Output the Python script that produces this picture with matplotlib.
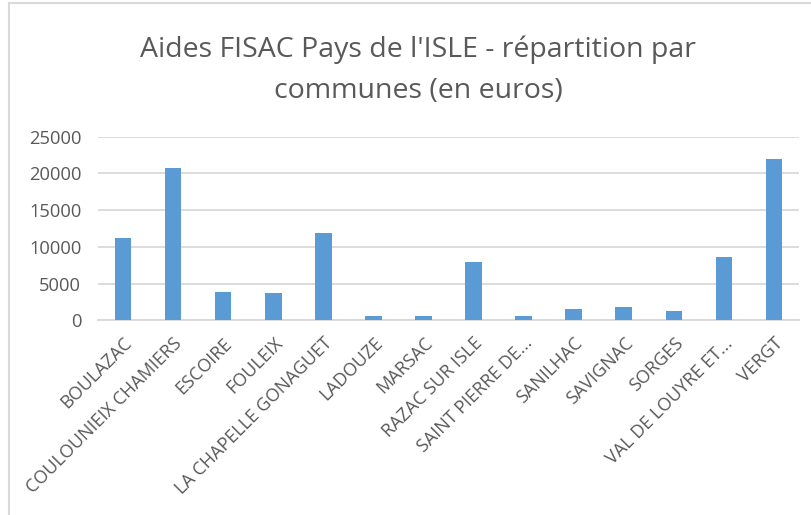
import matplotlib.pyplot as plt
from matplotlib.patches import Rectangle

communes = [
    "BOULAZAC", "COULOUNIEIX CHAMIERS", "ESCOIRE", "FOULEIX",
    "LA CHAPELLE GONAGUET", "LADOUZE", "MARSAC", "RAZAC SUR ISLE",
    "SAINT PIERRE DE...", "SANILHAC", "SAVIGNAC", "SORGES",
    "VAL DE LOUYRE ET...", "VERGT",
]
montants = [11200, 20800, 3800, 3650, 11950, 550, 550, 7950,
            550, 1500, 1770, 1320, 8630, 22000]
y_ticks = [0, 5000, 10000, 15000, 20000, 25000]

txt = "#595959"
grid = "#d9d9d9"
bar_color = "#5b9bd5"

plt.rcParams['font.family'] = ['Open Sans', 'DejaVu Sans']

fig = plt.figure(figsize=(8.11, 5.15), dpi=100)
ax = fig.add_axes([98 / 811, 1 - 320.3 / 515, 701 / 811, 183.6 / 515])

x = range(len(communes))
ax.bar(x, montants, width=0.33, color=bar_color, zorder=3)

ax.set_xlim(-0.5, len(communes) - 0.5)
ax.set_ylim(0, 25000)
ax.set_yticks(y_ticks)
ax.set_yticklabels([str(v) for v in y_ticks], fontsize=13.2, color=txt)
ax.set_xticks(list(x))
ax.set_xticklabels(communes, rotation=45, ha='right', rotation_mode='anchor',
                   fontsize=13, color=txt)
ax.tick_params(axis='both', length=0)
ax.tick_params(axis='y', pad=12)
ax.tick_params(axis='x', pad=10)

ax.grid(axis='y', color=grid, linewidth=1.3, zorder=0)
for s in ['top', 'right', 'left']:
    ax.spines[s].set_visible(False)
ax.spines['bottom'].set_color(grid)
ax.spines['bottom'].set_linewidth(1.3)

fig.text(418 / 811, 1 - 50 / 515, "Aides FISAC Pays de l'ISLE - répartition par",
         ha='center', va='center', fontsize=20.5, color=txt)
fig.text(418 / 811, 1 - 91 / 515, "communes (en euros)",
         ha='center', va='center', fontsize=20.5, color=txt)

# chart frame (only top and left edges visible in the crop)
fig.patches.append(Rectangle((9 / 811, -0.1), 1.2, 1 - 3 / 515 + 0.1,
                             transform=fig.transFigure, fill=False,
                             edgecolor=grid, linewidth=1.5))

fig.savefig("out.png", dpi=100)
